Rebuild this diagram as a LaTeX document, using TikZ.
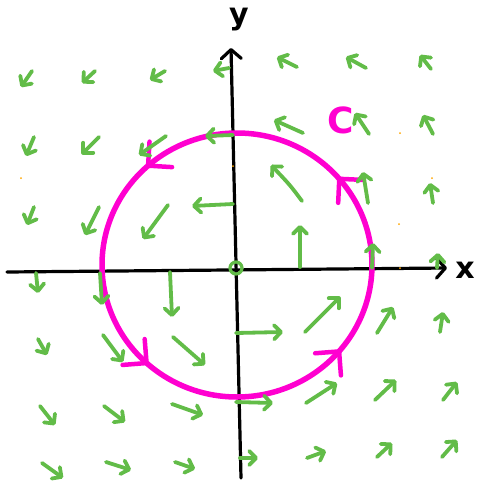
\documentclass[tikz,border=0pt]{standalone}
\usepackage{fontspec}
\newfontfamily\hand{DejaVu Sans}
\usetikzlibrary{arrows.meta,decorations.markings}
\definecolor{vgreen}{RGB}{98,188,72}
\definecolor{cmag}{RGB}{255,0,208}
\definecolor{dotorange}{RGB}{255,165,0}
\tikzset{chev/.tip={Straight Barb[length=17pt,width=34pt,line width=4.5pt,line cap=round,line join=round]}}
\begin{document}
\begin{tikzpicture}[x=1pt,y=-1pt,
  vec/.style={draw=vgreen,line width=3.8pt,line cap=round,line join=round,
    -{Straight Barb[length=7pt,width=14pt,line cap=round,line join=round]}},
  axis/.style={draw=black,line width=3.2pt,line cap=round,
    -{Straight Barb[length=9pt,width=20pt,line cap=round,line join=round]}},
  curve/.style={draw=cmag,line width=5.5pt},
  lbl/.style={font=\hand\bfseries\fontsize{30}{30}\selectfont,inner sep=0pt},
  speck/.style={fill=dotorange,draw=none}]
\useasboundingbox (0,0) rectangle (479,483);
% axes
\coordinate (xs) at (7,272);
\coordinate (xe) at (447,268);
\coordinate (ys) at (241,478);
\coordinate (ye) at (231,48);
\draw[axis] (xs) -- (xe);
\draw[axis] (ys) -- (ye);
\node[lbl] (xl) at (465,270) {x};
\node[lbl] (yl) at (239,20) {y};
% curve C
\draw[curve,postaction={decorate,decoration={markings,
   mark=at position 0.115 with {\arrow[cmag]{chev}},
   mark=at position 0.368 with {\arrow[cmag]{chev}},
   mark=at position 0.635 with {\arrow[cmag]{chev}},
   mark=at position 0.890 with {\arrow[cmag]{chev}}}}]
  (372,265) arc[start angle=0,end angle=-360,x radius=135,y radius=132];
\node[lbl,text=cmag,font=\hand\bfseries\fontsize{36}{36}\selectfont] (cl) at (341,120) {C};
% vector field
\draw[vec] (32,71)--(21,87);
\draw[vec] (95,71)--(82,83);
\draw[vec] (165,71)--(150,80);
\draw[vec] (229,68)--(213,71);
\draw[vec] (297,67)--(277,57);
\draw[vec] (366,68)--(346,57);
\draw[vec] (431,69)--(420,55);
%
\draw[vec] (34,137)--(26,156);
\draw[vec] (99,137)--(82,154);
\draw[vec] (166,136)--(139,155);
\draw[vec] (233,135)--(205,136);
\draw[vec] (303,133)--(274,120);
\draw[vec] (369,134)--(355,113);
\draw[vec] (433,134)--(423,115);
%
\draw[vec] (34,207)--(27,225);
\draw[vec] (99,207)--(85,235);
\draw[vec] (168,205)--(143,239);
\draw[vec] (233,204)--(192,206);
\draw[vec] (302,201) .. controls (290,185) .. (271,165);
\draw[vec] (368,203)--(363,172);
\draw[vec] (433,203)--(430,183);
%
\draw[vec] (36,273)--(38,293);
\draw[vec] (100,273)--(102,305);
\draw[vec] (170,272)--(172,317);
\draw[draw=vgreen,line width=3.2pt] (236,268) circle[radius=6];
\draw[vec] (300,267)--(300,225);
\draw[vec] (372,268)--(373,243);
\draw[vec] (437,268)--(438,253);
%
\draw[vec] (38,339)--(47,355);
\draw[vec] (103,335)--(123,362);
\draw[vec] (173,337)--(205,365);
\draw[vec] (236,333)--(283,332);
\draw[vec] (305,332)--(340,297);
\draw[vec] (377,333)--(393,307);
\draw[vec] (440,332)--(443,312);
%
\draw[vec] (40,406)--(55,425);
\draw[vec] (104,406)--(125,422);
\draw[vec] (172,404)--(203,415);
\draw[vec] (236,402)--(273,403);
\draw[vec] (306,403)--(337,383);
\draw[vec] (375,400)--(396,380);
\draw[vec] (443,400)--(457,382);
%
\draw[vec] (42,463)--(63,478);
\draw[vec] (106,462)--(131,470);
\draw[vec] (175,462)--(195,469);
\draw[vec] (240,458)--(258,458);
\draw[vec] (307,458)--(326,451);
\draw[vec] (377,457)--(392,443);
\draw[vec] (442,457)--(457,440);
% specks
\fill[speck] (21,178) circle[radius=1];
\fill[speck] (233,166) circle[radius=1];
\fill[speck] (400,133) circle[radius=1];
\fill[speck] (432,178) circle[radius=1];
\fill[speck] (399,224) circle[radius=1];
\fill[speck] (400,268) circle[radius=1];
\end{tikzpicture}
\end{document}
